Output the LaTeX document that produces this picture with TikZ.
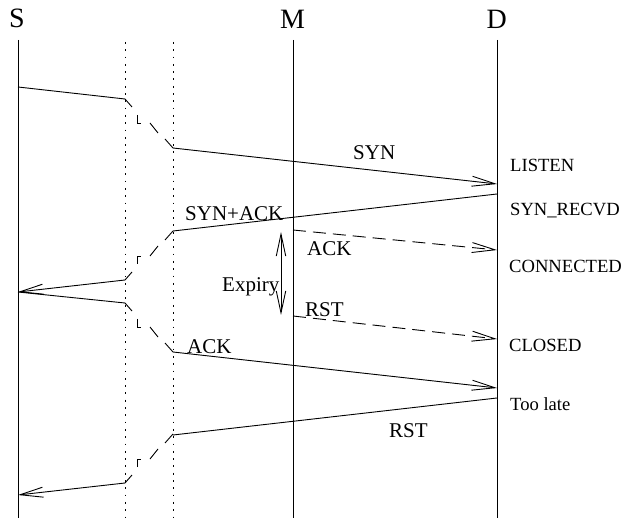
\documentclass[tikz,border=0pt]{standalone}
\usepackage{fontspec}
\setmainfont{Liberation Serif}
\usetikzlibrary{arrows.meta}
\begin{document}
\begin{tikzpicture}[x=1pt,y=-1pt,
  life/.style={line width=0.9pt},
  dotline/.style={line width=1pt, dash pattern=on 1.8pt off 5.5pt},
  msg/.style={line width=0.9pt},
  arr/.style={-{Straight Barb[length=23pt,width=10pt,line width=0.9pt]}},
  dmsg/.style={msg, dash pattern=on 13pt off 7pt},
  big/.style={font=\fontsize{28}{31}\selectfont, inner sep=0pt, anchor=base},
  lbl/.style={font=\fontsize{21}{24}\selectfont, inner sep=0pt, anchor=base west},
  state/.style={font=\fontsize{18.6}{22}\selectfont, inner sep=0pt, anchor=base west},
  hop/.pic={
    \draw[msg] (0,0)--(7,8);
    \draw[msg] (12,16)--(12,24)--(16,24);
    \draw[msg] (25,24)--(33,34);
    \draw[msg] (40,40)--(48,49);
  }
]
\useasboundingbox (0,0) rectangle (634,518);

% headers
\node[big] (S) at (17,28) {S};
\node[big] (M) at (292.5,28.3) {M};
\node[big] (D) at (496.7,28.3) {D};

% lifeline ends
\coordinate (sT) at (18,40);   \coordinate (sE) at (18,518);
\coordinate (mT) at (293,40);  \coordinate (mE) at (293,518);
\coordinate (dT) at (497,40);  \coordinate (dE) at (497,518);
\coordinate (aT) at (125,42);  \coordinate (aE) at (125,518);
\coordinate (bT) at (173,42);  \coordinate (bE) at (173,518);

\draw[life] (sT) -- (sE);
\draw[life] (mT) -- (mE);
\draw[life] (dT) -- (dE);
\draw[dotline] (aT) -- (aE);
\draw[dotline] (bT) -- (bE);

% message points
\coordinate (sA) at (18,87);
\coordinate (sB) at (18,292);
\coordinate (sC) at (18,495);
\coordinate (p1) at (125,99);
\coordinate (p2) at (125,280);
\coordinate (p3) at (125,303);
\coordinate (p4) at (125,483);
\coordinate (q1) at (173,148);
\coordinate (q2) at (173,231);
\coordinate (q3) at (173,352);
\coordinate (q4) at (173,435);
\coordinate (d1) at (497,184);
\coordinate (d2) at (497,194);
\coordinate (d3) at (497,250);
\coordinate (d4) at (497,339);
\coordinate (d5) at (497,388);
\coordinate (d6) at (497,398);
\coordinate (m1) at (293,230);
\coordinate (m2) at (293,316);
\coordinate (e1) at (281,232);
\coordinate (e2) at (281,315);

% SYN
\draw[msg] (sA) -- (p1);
\path (p1) pic {hop};
\draw[msg,arr] (q1) -- (d1);
% SYN+ACK
\draw[msg] (d2) -- (q2);
\path (p2) pic[yscale=-1] {hop};
\draw[msg,arr] (p2) -- (sB);
% ACK
\draw[msg] (sB) -- (p3);
\path (p3) pic {hop};
\draw[msg,arr] (q3) -- (d5);
% RST
\draw[msg] (d6) -- (q4);
\path (p4) pic[yscale=-1] {hop};
\draw[msg,arr] (p4) -- (sC);
% attacker messages
\draw[dmsg,arr] (m1) -- (d3);
\draw[dmsg,arr] (m2) -- (d4);
% expiry
\draw[msg,{Straight Barb[length=22pt,width=9.5pt,line width=0.9pt]}-{Straight Barb[length=22pt,width=9.5pt,line width=0.9pt]}] (e1) -- (e2);

% labels
\node[lbl] (lsyn) at (353,160) {SYN};
\node[lbl] (lsynack) at (185,221) {SYN+ACK};
\node[lbl] (lack1) at (307,256) {ACK};
\node[lbl] (lexp) at (222,291.5) {Expiry};
\node[lbl] (lrst1) at (305,317) {RST};
\node[lbl] (lack2) at (187,353) {ACK};
\node[lbl] (lrst2) at (389,437) {RST};

\node[state] (listen) at (510,172) {LISTEN};
\node[state] (synrecvd) at (510,216) {SYN\_RECVD};
\node[state] (conn) at (509,273) {CONNECTED};
\node[state] (closed) at (509,352) {CLOSED};
\node[state] (late) at (510,410) {Too late};
\end{tikzpicture}
\end{document}
